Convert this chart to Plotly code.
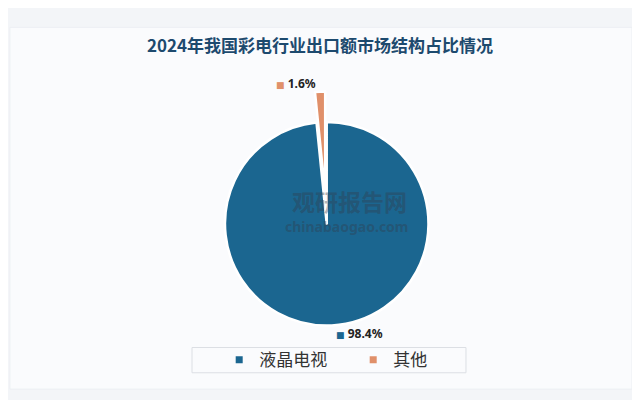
import plotly.graph_objects as go

title_text = "2024年我国彩电行业出口额市场结构占比情况"
categories = ["液晶电视", "其他"]
shares = [98.4, 1.6]
colors = ["#1b6690", "#e0906a"]
pulls = [0, 0.3]

fig = go.Figure()

label_tpl = [
    "<span style='color:%s;font-size:9px'>■</span> <b>%%{value:.1f}%%</b>" % c for c in colors
]

fig.add_trace(go.Pie(
    labels=categories,
    values=shares,
    sort=False,
    direction="clockwise",
    rotation=0,
    pull=pulls,
    marker=dict(colors=colors, line=dict(color="white", width=2.5)),
    textposition="outside",
    texttemplate=label_tpl,
    textfont=dict(family="Noto Sans, DejaVu Sans", size=12, color="#222222"),
    showlegend=False,
    hoverinfo="label+percent",
    domain=dict(x=[0.285, 0.711], y=[0.113, 0.793]),
))

# legend entries with small square markers
for cat, col in zip(categories, colors):
    fig.add_trace(go.Scatter(
        x=[None], y=[None], mode="markers", name=cat,
        marker=dict(symbol="square", size=7, color=col),
        showlegend=True,
    ))

fig.update_layout(
    width=640, height=400,
    margin=dict(l=0, r=0, t=0, b=0),
    paper_bgcolor="#f3f5f8",
    plot_bgcolor="rgba(0,0,0,0)",
    xaxis=dict(visible=False),
    yaxis=dict(visible=False),
    title=dict(
        text="<b>" + title_text + "</b>",
        x=0.4875, xanchor="center", y=0.905, yanchor="middle",
        font=dict(family="Noto Sans CJK SC", size=17, color="#1d4a6e"),
    ),
    legend=dict(
        orientation="h", x=0.33, xanchor="left", y=0.1025, yanchor="middle",
        font=dict(family="Noto Sans CJK SC", size=17, color="#333333"),
        bgcolor="rgba(0,0,0,0)", itemwidth=30, entrywidth=89,
    ),
    shapes=[
        dict(type="rect", xref="paper", yref="paper", x0=0.003, x1=0.975,
             y0=0.028, y1=0.958, fillcolor="#fafbfd",
             line=dict(color="#eceff3", width=1), layer="below"),
        dict(type="rect", xref="paper", yref="paper", x0=0.2875, x1=0.7156,
             y0=0.07, y1=0.135, fillcolor="rgba(0,0,0,0)",
             line=dict(color="#dcdfe4", width=1), layer="below"),
    ],
    annotations=[
        dict(text="<b>观研报告网</b>", xref="paper", yref="paper", x=0.534, y=0.512,
             showarrow=False, font=dict(family="Noto Sans CJK SC", size=23,
                                        color="rgba(50,60,75,0.4)")),
        dict(text="<b>chinabaogao.com</b>", xref="paper", yref="paper", x=0.530, y=0.445,
             showarrow=False, font=dict(family="Noto Sans", size=14,
                                        color="rgba(50,60,75,0.4)")),
    ],
)

fig.write_html("out.html")
